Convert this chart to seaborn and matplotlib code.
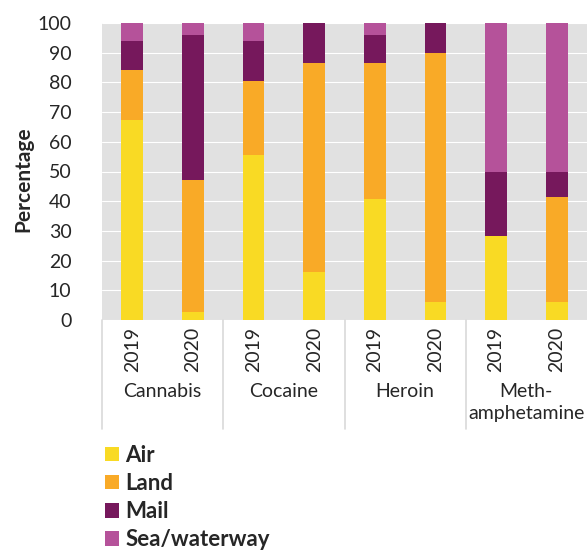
import matplotlib
matplotlib.use("Agg")
import matplotlib.pyplot as plt
import matplotlib.transforms as mtransforms
import pandas as pd
import seaborn as sns

# data
drugs = ["Cannabis", "Cocaine", "Heroin", "Meth-\namphetamine"]
years = ["2019", "2020"]
modes = ["Air", "Land", "Mail", "Sea/waterway"]
air = [67.3, 2.8, 55.4, 16.0, 40.6, 5.9, 28.3, 6.1]
land = [16.9, 44.4, 25.2, 70.5, 46.1, 84.0, 0.0, 35.3]
mail = [9.9, 48.6, 13.2, 13.5, 9.2, 10.1, 21.5, 8.4]
sea = [5.9, 4.2, 6.2, 0.0, 4.1, 0.0, 50.2, 50.2]
colors = ["#F9DA24", "#F9AA27", "#76185C", "#B5529A"]

sns.set_style("whitegrid", rc={"axes.facecolor": "#E1E1E1", "grid.color": "white",
                               "grid.linewidth": 1.2, "axes.edgecolor": "#E1E1E1"})
plt.rcParams["font.family"] = ["Lato", "DejaVu Sans"]

slots = [f"{d.split(chr(10))[0]} {y}" for d in drugs for y in years]
df = pd.DataFrame({"slot": slots, "Air": air, "Land": land, "Mail": mail, "Sea/waterway": sea})
cum = df[modes].cumsum(axis=1)

fig = plt.figure(figsize=(5.87, 5.51), dpi=100)
ax = fig.add_axes([102 / 587, 1 - 320 / 551, 485 / 587, 297 / 551])

# stacked bars: draw cumulative totals from the top layer down
for mode, col in reversed(list(zip(modes, colors))):
    sns.barplot(x=df["slot"], y=cum[mode], order=slots, color=col, width=0.36,
                saturation=1, linewidth=0, label=mode, ax=ax)
ax.get_legend().remove()

ax.set_ylim(0, 100)
ax.set_xlim(-0.5, len(slots) - 0.5)
ax.set_yticks(range(0, 101, 10))
ax.tick_params(axis="y", labelsize=14, pad=22, length=0)
ax.set_xticks([])
ax.set_xlabel("")
ax.set_ylabel("Percentage", fontsize=15, fontweight="bold")
ax.yaxis.set_label_coords(-0.142, 0.475)
ax.grid(axis="x", visible=False)
for s in ax.spines.values():
    s.set_visible(False)

trans = mtransforms.blended_transform_factory(ax.transData, ax.transAxes)
for i, slot in enumerate(slots):
    ax.text(i, -0.022, slot.split()[-1], rotation=90, ha="center", va="top",
            fontsize=14, transform=trans)
for g, d in enumerate(drugs):
    ax.text(2 * g + 0.5, -0.212, d, ha="center", va="top", fontsize=14,
            linespacing=1.35, transform=trans)
for xs in [-0.5, 1.5, 3.5, 5.5]:
    ax.plot([xs, xs], [0, -0.367], color="#D9D9D9", lw=1.2, transform=trans, clip_on=False)

handles, labels = ax.get_legend_handles_labels()
order = [labels.index(m) for m in modes]
fig.legend([handles[i] for i in order], modes, loc="upper left",
           bbox_to_anchor=(105 / 587, 1 - 445 / 551), frameon=False,
           prop={"size": 16, "weight": "bold"}, handlelength=0.62, handleheight=0.62,
           handletextpad=0.3, labelspacing=0.32, borderpad=0, borderaxespad=0)

fig.savefig("out.png", dpi=100)
